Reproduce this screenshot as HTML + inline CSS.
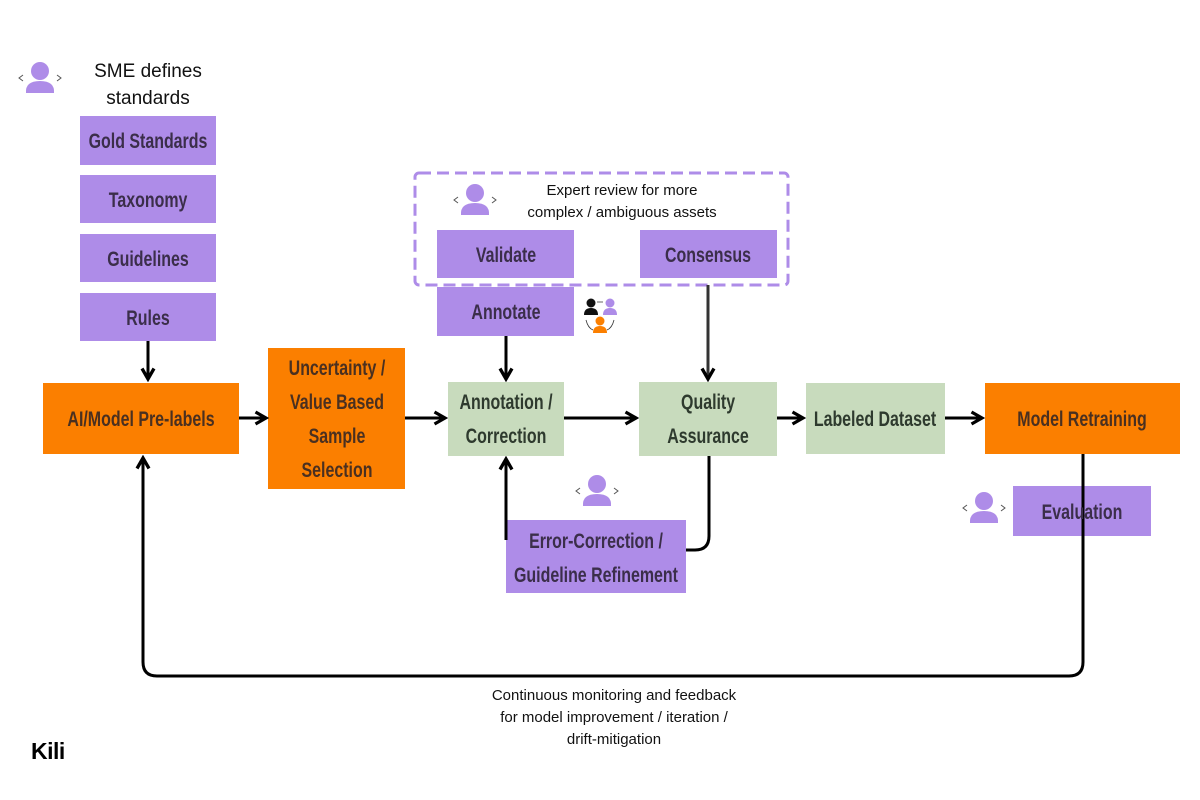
<!DOCTYPE html>
<html><head><meta charset="utf-8"><style>
html,body{margin:0;padding:0;background:#fff}
svg{display:block}
.b{font-family:"Liberation Sans",sans-serif;font-weight:bold;font-size:21px;text-anchor:middle;transform:scaleX(0.76);transform-box:fill-box;transform-origin:center}
.p{fill:#3b2e4a}.o{fill:#4a3020}.g{fill:#2e3a2e}
.t{font-family:"Liberation Sans",sans-serif;font-size:15px;fill:#111;text-anchor:middle}
</style></head><body>
<svg width="1200" height="800" viewBox="0 0 1200 800" xmlns="http://www.w3.org/2000/svg">
<defs>
<marker id="a" viewBox="0 0 10 10" refX="8" refY="5" markerWidth="5" markerHeight="5" orient="auto"><path d="M1,1 L8,5 L1,9" fill="none" stroke="#000" stroke-width="2.2"/></marker>
<g id="u"><circle cx="0" cy="-6" r="9" fill="#ae8ce8"/><path d="M-14,16 Q-15,4 0,4 Q15,4 14,16 Z" fill="#ae8ce8"/><path d="M-17,-2 l-4,3 l4,3 M17,-2 l4,3 l-4,3" fill="none" stroke="#555" stroke-width="1"/></g>
</defs>
<use href="#u" x="40" y="77"/>
<text x="148" y="77" font-family="Liberation Sans,sans-serif" font-size="19" text-anchor="middle" fill="#111">SME defines</text>
<text x="148" y="104" font-family="Liberation Sans,sans-serif" font-size="19" text-anchor="middle" fill="#111">standards</text>
<g fill="#ae8ce8">
<rect x="80" y="116" width="136" height="49"/>
<rect x="80" y="175" width="136" height="48"/>
<rect x="80" y="234" width="136" height="48"/>
<rect x="80" y="293" width="136" height="48"/>
<rect x="437" y="230" width="137" height="48"/>
<rect x="640" y="230" width="137" height="48"/>
<rect x="437" y="287" width="137" height="49"/>
<rect x="506" y="520" width="180" height="73"/>
<rect x="1013" y="486" width="138" height="50"/>
</g>
<g fill="#fb7f00">
<rect x="43" y="383" width="196" height="71"/>
<rect x="268" y="348" width="137" height="141"/>
<rect x="985" y="383" width="195" height="71"/>
</g>
<g fill="#c8dbbd">
<rect x="448" y="382" width="116" height="74"/>
<rect x="639" y="382" width="138" height="74"/>
<rect x="806" y="383" width="139" height="71"/>
</g>
<rect x="415" y="173" width="373" height="112" rx="4" fill="none" stroke="#ae8ce8" stroke-width="3" stroke-dasharray="12,6"/>
<use href="#u" x="475" y="199"/>
<text class="t" x="622" y="195">Expert review for more</text>
<text class="t" x="622" y="217">complex / ambiguous assets</text>
<g>
<circle cx="591" cy="303" r="4.5" fill="#111"/><path d="M584,315 Q584,308 591,308 Q598,308 598,315Z" fill="#111"/>
<circle cx="610" cy="303" r="4.5" fill="#ae8ce8"/><path d="M603,315 Q603,308 610,308 Q617,308 617,315Z" fill="#ae8ce8"/>
<circle cx="600" cy="321" r="4.5" fill="#fb7f00"/><path d="M593,333 Q593,326 600,326 Q607,326 607,333Z" fill="#fb7f00"/>
<path d="M586,320 Q588,328 593,330 M614,320 Q612,328 607,330 M597,302 h6" fill="none" stroke="#333" stroke-width="0.8"/>
</g>
<use href="#u" x="597" y="490"/>
<use href="#u" x="984" y="507"/>
<g stroke="#000" stroke-width="3" fill="none" marker-end="url(#a)">
<line x1="148" y1="341" x2="148" y2="379"/>
<line x1="239" y1="418" x2="266" y2="418"/>
<line x1="405" y1="418" x2="445" y2="418"/>
<line x1="564" y1="418" x2="636" y2="418"/>
<line x1="777" y1="418" x2="803" y2="418"/>
<line x1="945" y1="418" x2="982" y2="418"/>
<line x1="506" y1="336" x2="506" y2="379"/>
<line x1="506" y1="540" x2="506" y2="459"/>
<path d="M1083,454 V662 Q1083,676 1069,676 H157 Q143,676 143,662 V458"/>
</g>
<line x1="708" y1="285" x2="708" y2="379" stroke="#333" stroke-width="3" marker-end="url(#a)"/>
<path d="M709,456 V536 Q709,550 695,550 H686" stroke="#000" stroke-width="3" fill="none"/>
<text class="b p" x="148" y="148">Gold Standards</text>
<text class="b p" x="148" y="207">Taxonomy</text>
<text class="b p" x="148" y="266">Guidelines</text>
<text class="b p" x="148" y="325">Rules</text>
<text class="b p" x="506" y="262">Validate</text>
<text class="b p" x="708" y="262">Consensus</text>
<text class="b p" x="506" y="319">Annotate</text>
<text class="b p" x="596" y="548">Error-Correction /</text>
<text class="b p" x="596" y="582">Guideline Refinement</text>
<text class="b p" x="1082" y="519">Evaluation</text>
<text class="b o" x="141" y="426">AI/Model Pre-labels</text>
<text class="b o" x="337" y="375">Uncertainty /</text>
<text class="b o" x="337" y="409">Value Based</text>
<text class="b o" x="337" y="443">Sample</text>
<text class="b o" x="337" y="477">Selection</text>
<text class="b o" x="1082" y="426">Model Retraining</text>
<text class="b g" x="506" y="409">Annotation /</text>
<text class="b g" x="506" y="443">Correction</text>
<text class="b g" x="708" y="409">Quality</text>
<text class="b g" x="708" y="443">Assurance</text>
<text class="b g" x="875" y="426">Labeled Dataset</text>
<text class="t" x="614" y="700">Continuous monitoring and feedback</text>
<text class="t" x="614" y="722">for model improvement / iteration /</text>
<text class="t" x="614" y="744">drift-mitigation</text>
<text x="31" y="759" font-family="Liberation Sans,sans-serif" font-weight="900" font-size="23" fill="#000" letter-spacing="-0.5">Kili</text>
</svg>
</body></html>
